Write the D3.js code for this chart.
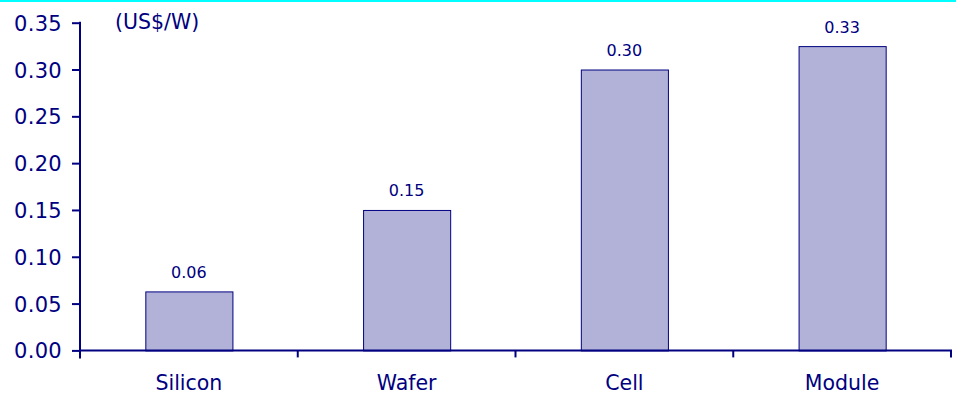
<!DOCTYPE html>
<html>
<head>
<meta charset="utf-8">
<script src="https://cdn.jsdelivr.net/npm/d3@7"></script>
<style>
  html, body { margin: 0; padding: 0; background: #fff; }
  svg { display: block; }
  text { font-family: "DejaVu Sans", Verdana, sans-serif; fill: #000080; }
</style>
</head>
<body>
<svg id="chart" width="956" height="395"></svg>
<script>
// Cost breakdown along the PV value chain (US$/W)
const categories = ["Silicon", "Wafer", "Cell", "Module"];
const values = [0.063, 0.15, 0.30, 0.325];
const yTicks = [0, 0.05, 0.10, 0.15, 0.20, 0.25, 0.30, 0.35];
const unitLabel = "(US$/W)";

const W = 956, H = 395;
const plotLeft = 80, plotRight = 951, plotTop = 22.7, plotBottom = 350.4;
const navy = "#000080";

const svg = d3.select("#chart");

// thin cyan rule along the top edge
svg.append("rect").attr("x", 0).attr("y", 0).attr("width", W).attr("height", 2).attr("fill", "#00ffff");

const y = d3.scaleLinear().domain([0, 0.35]).range([plotBottom, plotTop]);
const xBand = d3.scaleBand().domain(categories).range([plotLeft, plotRight]).paddingInner(0.6).paddingOuter(0.3);
const xCell = d3.scaleBand().domain(categories).range([plotLeft, plotRight]).padding(0);

// bars
svg.append("g").selectAll("rect").data(categories).join("rect")
  .attr("x", d => xBand(d) + 0.5)
  .attr("y", (d, i) => y(values[i]) + 0.5)
  .attr("width", xBand.bandwidth())
  .attr("height", (d, i) => y(0) - y(values[i]))
  .attr("fill", "#b2b2d8")
  .attr("stroke", navy)
  .attr("stroke-width", 1);

// value labels
svg.append("g").selectAll("text").data(categories).join("text")
  .attr("x", d => xBand(d) + xBand.bandwidth() / 2)
  .attr("y", (d, i) => y(values[i]) - 13.6)
  .attr("text-anchor", "middle")
  .style("font-size", "16px")
  .text((d, i) => d3.format(".2f")(values[i]));

// y axis
const yAxis = svg.append("g").attr("transform", `translate(${plotLeft},0)`)
  .call(d3.axisLeft(y).tickValues(yTicks).tickFormat(d3.format(".2f")).tickSize(8).tickPadding(10));
yAxis.attr("font-family", null).attr("font-size", null);
yAxis.select(".domain").attr("stroke", navy).attr("stroke-width", 2).attr("d", `M0,${plotTop - 1}V${plotBottom + 8}`);
yAxis.selectAll(".tick line").attr("stroke", navy).attr("stroke-width", 2);
yAxis.selectAll(".tick text").style("font-size", "21px").style("letter-spacing", "0.3px")
  .attr("fill", navy).attr("dy", "0.36em");

// x axis: boundary ticks between categories, labels centred in each slot
const bounds = categories.map(d => xCell(d)).concat([plotRight]);
const xAxis = svg.append("g");
xAxis.append("line").attr("x1", plotLeft - 1).attr("x2", plotRight + 1).attr("y1", plotBottom).attr("y2", plotBottom)
  .attr("stroke", navy).attr("stroke-width", 2);
xAxis.selectAll("line.tick").data(bounds).join("line").attr("class", "tick")
  .attr("x1", d => d).attr("x2", d => d).attr("y1", plotBottom).attr("y2", plotBottom + 7)
  .attr("stroke", navy).attr("stroke-width", 2);
xAxis.selectAll("text").data(categories).join("text")
  .attr("x", d => xCell(d) + xCell.bandwidth() / 2)
  .attr("y", plotBottom + 40)
  .attr("text-anchor", "middle")
  .style("font-size", "20.5px")
  .text(d => d);

// unit label
svg.append("text").attr("x", 115).attr("y", 29).style("font-size", "20.5px").text(unitLabel);
</script>
</body>
</html>
